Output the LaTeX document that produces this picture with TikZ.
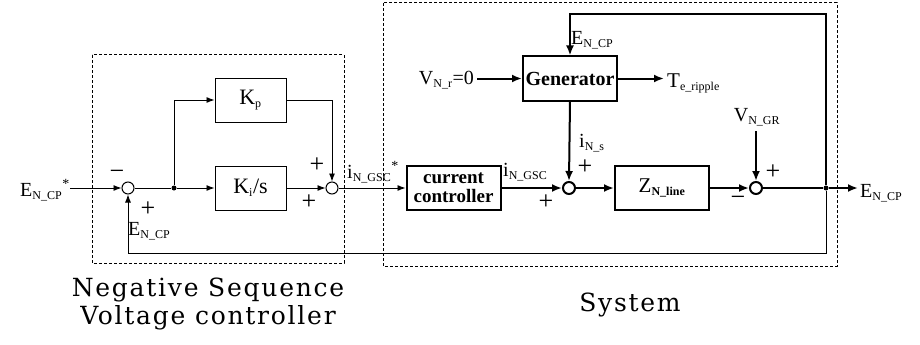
\documentclass[tikz,border=0pt]{standalone}
\usepackage{fontspec}
\setmainfont{Liberation Serif}
\newfontfamily\widefont[LetterSpace=7]{DejaVu Serif}
\newcommand\sbs[1]{\textsubscript{\fontsize{12}{12}\selectfont #1}}
\usetikzlibrary{arrows.meta}
\begin{document}
\begin{tikzpicture}[x=1pt,y=-1pt,
  lbl/.style={inner sep=0pt, font=\fontsize{20}{20}\selectfont},
  sgn/.style={inner sep=0pt, font=\fontsize{26}{26}\selectfont},
  blk/.style={draw, line width=1pt, minimum width=71pt, minimum height=44pt, inner sep=0pt, font=\fontsize{22}{22}\selectfont},
  tblk/.style={draw, line width=2pt, minimum width=94pt, minimum height=44pt, inner sep=0pt, align=center},
  sumc/.style={circle, draw, line width=1pt, minimum size=12pt, inner sep=0pt},
  tsumc/.style={circle, draw, line width=2pt, minimum size=12pt, inner sep=0pt},
  dotn/.style={circle, fill, inner sep=0pt, minimum size=5pt},
  thinw/.style={line width=0.9pt, -{Latex[length=8pt,width=6pt]}},
  thickw/.style={line width=2pt, -{Latex[length=10pt,width=8pt]}},
  grp/.style={line width=1pt, dash pattern=on 3pt off 2pt},
  title/.style={inner sep=0pt, align=center, font=\widefont\fontsize{25}{28}\selectfont},
]
\useasboundingbox (0,0) rectangle (920,345);

% group boxes
\draw[grp] (92,55) rectangle (344,263);
\draw[grp] (383,3) rectangle (837,266);

% blocks and junctions
\node[sumc] (s1) at (128,188) {};
\node[dotn] (br) at (174,188) {};
\node[blk] (kp) at (250.5,100) {K\sbs{p}};
\node[blk] (ki) at (250.5,188) {K\sbs{i}/s};
\node[sumc] (s2) at (332,188) {};
\node[tblk, font=\bfseries\fontsize{19}{19}\selectfont] (cc) at (453.5,188) {current\\controller};
\node[tsumc] (s3) at (569,188) {};
\node[tblk, font=\fontsize{21}{21}\selectfont] (zl) at (662,188) {Z\sbs{\bfseries N\_line}};
\node[tsumc] (s4) at (756,188) {};
\node[dotn] (jn) at (826,188) {};
\node[tblk, font=\bfseries\fontsize{20}{20}\selectfont] (gen) at (570,78.5) {Generator};

\coordinate (ein) at (70,188);
\coordinate (out) at (858,188);
\coordinate (tr) at (826,14);
\coordinate (bt) at (826,253);
\coordinate (vnr) at (477,78.5);
\coordinate (tend) at (664,78.5);
\coordinate (vgr) at (756,131);

% labels
\node[lbl, anchor=east] (lein) at (70,190) {E\sbs{N\_CP}\textsuperscript{*}};
\node[lbl, anchor=west] (lfb) at (128,231) {E\sbs{N\_CP}};
\node[lbl, anchor=west] (lisr) at (347,172) {i\sbs{N\_GSC}\textsuperscript{*}};
\node[lbl, anchor=west] (li) at (503,172) {i\sbs{N\_GSC}};
\node[lbl, anchor=west] (lis) at (579,143) {i\sbs{N\_s}};
\node[lbl] (lvgr) at (757,117) {V\sbs{N\_GR}};
\node[lbl, anchor=west] (lout) at (860,193) {E\sbs{N\_CP}};
\node[lbl, anchor=west] (ltop) at (571,40) {E\sbs{N\_CP}};
\node[lbl, anchor=west, font=\fontsize{21}{21}\selectfont] (lt) at (667,83) {T\sbs{e\_ripple}};
\node[lbl, anchor=east] (lvnr) at (474,80) {V\sbs{N\_r}=0};

% signs
\node[sgn] (m1) at (117,175) {−};
\node[sgn] (p1) at (148,209) {+};
\node[sgn] (p2) at (317,165) {+};
\node[sgn] (p3) at (309,202) {+};
\node[sgn] (p4) at (546,202) {+};
\node[sgn] (p5) at (585,167) {+};
\node[sgn] (m4) at (738,201) {−};
\node[sgn] (p6) at (773,172) {+};

% connectors
\draw[thinw] (ein) -- (s1.west);
\draw[line width=0.9pt] (s1.east) -- (br);
\draw[thinw] (br) |- (kp.west);
\draw[thinw] (br) -- (ki.west);
\draw[thinw] (kp.east) -| (s2.north);
\draw[thinw] (ki.east) -- (s2.west);
\draw[thinw] (s2.east) -- (cc.west);
\draw[thickw] (cc.east) -- (s3.west);
\draw[thickw] (s3.east) -- (zl.west);
\draw[thickw] (zl.east) -- (s4.west);
\draw[line width=1.5pt] (s4.east) -- (jn);
\draw[thickw] (jn) -- (out);
\draw[thickw] (jn) -- (tr) -| (gen.north);
\draw[thickw] (vnr) -- (gen.west);
\draw[thickw] (gen.east) -- (tend);
\draw[thickw] (gen.south) -- (s3.north);
\draw[thickw] (vgr) -- (s4.north);
\draw[thinw] (jn) -- (bt) -| (s1.south);

% titles
\node[title] (t1) at (208,304) {Negative Sequence\\Voltage controller};
\node[title] (t2) at (630,305) {System};
\end{tikzpicture}
\end{document}
